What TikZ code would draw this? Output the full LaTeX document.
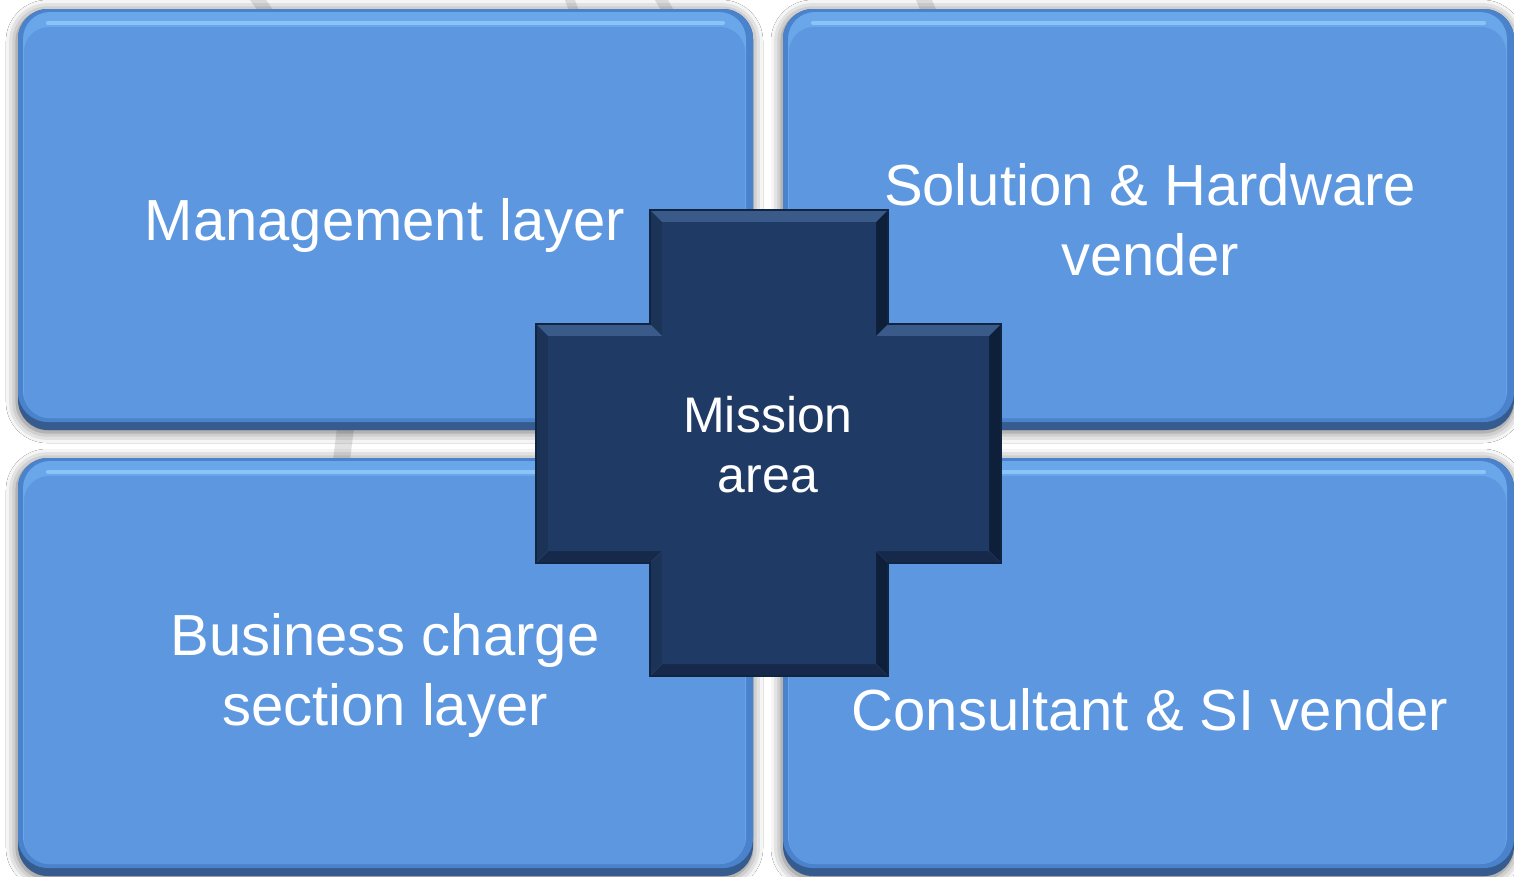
\documentclass[tikz,border=0pt]{standalone}
\usepackage{fontspec}
\setmainfont{Liberation Sans}
\usetikzlibrary{shadows.blur}
\definecolor{boxfill}{HTML}{5C97DF}
\definecolor{boxedge}{HTML}{4A82CB}
\definecolor{boxdark}{HTML}{365C8F}
\definecolor{boxband}{HTML}{6AA6EA}
\definecolor{boxhi}{HTML}{8CC4F8}
\definecolor{crossfill}{HTML}{1F3A64}
\definecolor{crossline}{HTML}{112442}
\definecolor{crosslight}{HTML}{3A5B89}
\definecolor{crossmid}{HTML}{1A3357}
\definecolor{crossdark}{HTML}{0E1F3A}
\definecolor{crossbot}{HTML}{16294A}
\definecolor{faint}{HTML}{E2E2E2}
\tikzset{
  paneltext/.style={text=white, font=\fontsize{58}{70}\selectfont, align=center, anchor=base, inner sep=0pt},
  missiontext/.style={text=white, font=\fontsize{50}{60}\selectfont, align=center, anchor=base, inner sep=0pt},
  panelshadow/.style={blur shadow={shadow xshift=-1pt, shadow yshift=-2pt, shadow blur radius=11pt, shadow opacity=60}},
  faintstrip/.style={fill=faint},
}
\begin{document}
\begin{tikzpicture}[x=1pt,y=-1pt]
\useasboundingbox (0,0) rectangle (1514,876);
\fill[white] (0,0) rectangle (1514,876);
% faint background strips
\fill[faintstrip] (250,0) -- (266,0) -- (276,14) -- (260,14) -- cycle;
\fill[faintstrip] (565,0) -- (575,0) -- (580,14) -- (570,14) -- cycle;
\fill[faintstrip] (655,0) -- (668,0) -- (676,14) -- (663,14) -- cycle;
\fill[faintstrip] (916,0) -- (932,0) -- (938,14) -- (922,14) -- cycle;
\fill[faintstrip] (337,428) -- (354,428) -- (350,460) -- (333,460) -- cycle;
% panels
\foreach \xa/\ya/\xb/\yb in {18/9/753/430, 783/9/1514/430, 18/458/753/876, 783/458/1514/876}{
  \fill[boxdark, rounded corners=30pt, panelshadow] (\xa,\ya) rectangle (\xb,\yb);
  \fill[boxedge, rounded corners=30pt] (\xa,\ya) rectangle (\xb,\yb-8);
  \fill[boxband, rounded corners=27pt] (\xa+5,\ya+3) rectangle (\xb-7,\yb-12);
  \fill[boxfill, rounded corners=25pt] (\xa+6,\ya+18) rectangle (\xb-8,\yb-12);
  \draw[boxhi, line width=4pt, line cap=round] (\xa+30,\ya+14) -- (\xb-30,\ya+14);
}
% cross
\coordinate (o1) at (650,210);  \coordinate (i1) at (662,222);
\coordinate (o2) at (888,210);  \coordinate (i2) at (876,222);
\coordinate (o3) at (888,324);  \coordinate (i3) at (876,336);
\coordinate (o4) at (1001,324); \coordinate (i4) at (989,336);
\coordinate (o5) at (1001,563); \coordinate (i5) at (989,551);
\coordinate (o6) at (888,563);  \coordinate (i6) at (876,551);
\coordinate (o7) at (888,676);  \coordinate (i7) at (876,664);
\coordinate (o8) at (650,676);  \coordinate (i8) at (662,664);
\coordinate (o9) at (650,563);  \coordinate (i9) at (662,551);
\coordinate (o10) at (536,563); \coordinate (i10) at (548,551);
\coordinate (o11) at (536,324); \coordinate (i11) at (548,336);
\coordinate (o12) at (650,324); \coordinate (i12) at (662,336);
\fill[crosslight] (o1) -- (o2) -- (i2) -- (i1) -- cycle;
\fill[crosslight] (o3) -- (o4) -- (i4) -- (i3) -- cycle;
\fill[crosslight] (o11) -- (o12) -- (i12) -- (i11) -- cycle;
\fill[crossdark] (o2) -- (o3) -- (i3) -- (i2) -- cycle;
\fill[crossdark] (o4) -- (o5) -- (i5) -- (i4) -- cycle;
\fill[crossdark] (o6) -- (o7) -- (i7) -- (i6) -- cycle;
\fill[crossbot] (o5) -- (o6) -- (i6) -- (i5) -- cycle;
\fill[crossbot] (o7) -- (o8) -- (i8) -- (i7) -- cycle;
\fill[crossbot] (o9) -- (o10) -- (i10) -- (i9) -- cycle;
\fill[crossmid] (o8) -- (o9) -- (i9) -- (i8) -- cycle;
\fill[crossmid] (o10) -- (o11) -- (i11) -- (i10) -- cycle;
\fill[crossmid] (o12) -- (o1) -- (i1) -- (i12) -- cycle;
\fill[crossfill] (i1) -- (i2) -- (i3) -- (i4) -- (i5) -- (i6) -- (i7) -- (i8) -- (i9) -- (i10) -- (i11) -- (i12) -- cycle;
\draw[crossline, line width=1.5pt] (o1) -- (o2) -- (o3) -- (o4) -- (o5) -- (o6) -- (o7) -- (o8) -- (o9) -- (o10) -- (o11) -- (o12) -- cycle;
% texts (base anchor = last line baseline)
\node[paneltext] (mgmt) at (385,240) {Management layer};
\node[paneltext] (soln) at (1150,275) {Solution \& Hardware\\vender};
\node[paneltext] (biz) at (385,725) {Business charge\\section layer};
\node[paneltext] (cons) at (1150,730) {Consultant \& SI vender};
\node[missiontext] (mission) at (768,492) {Mission\\area};
\end{tikzpicture}
\end{document}
